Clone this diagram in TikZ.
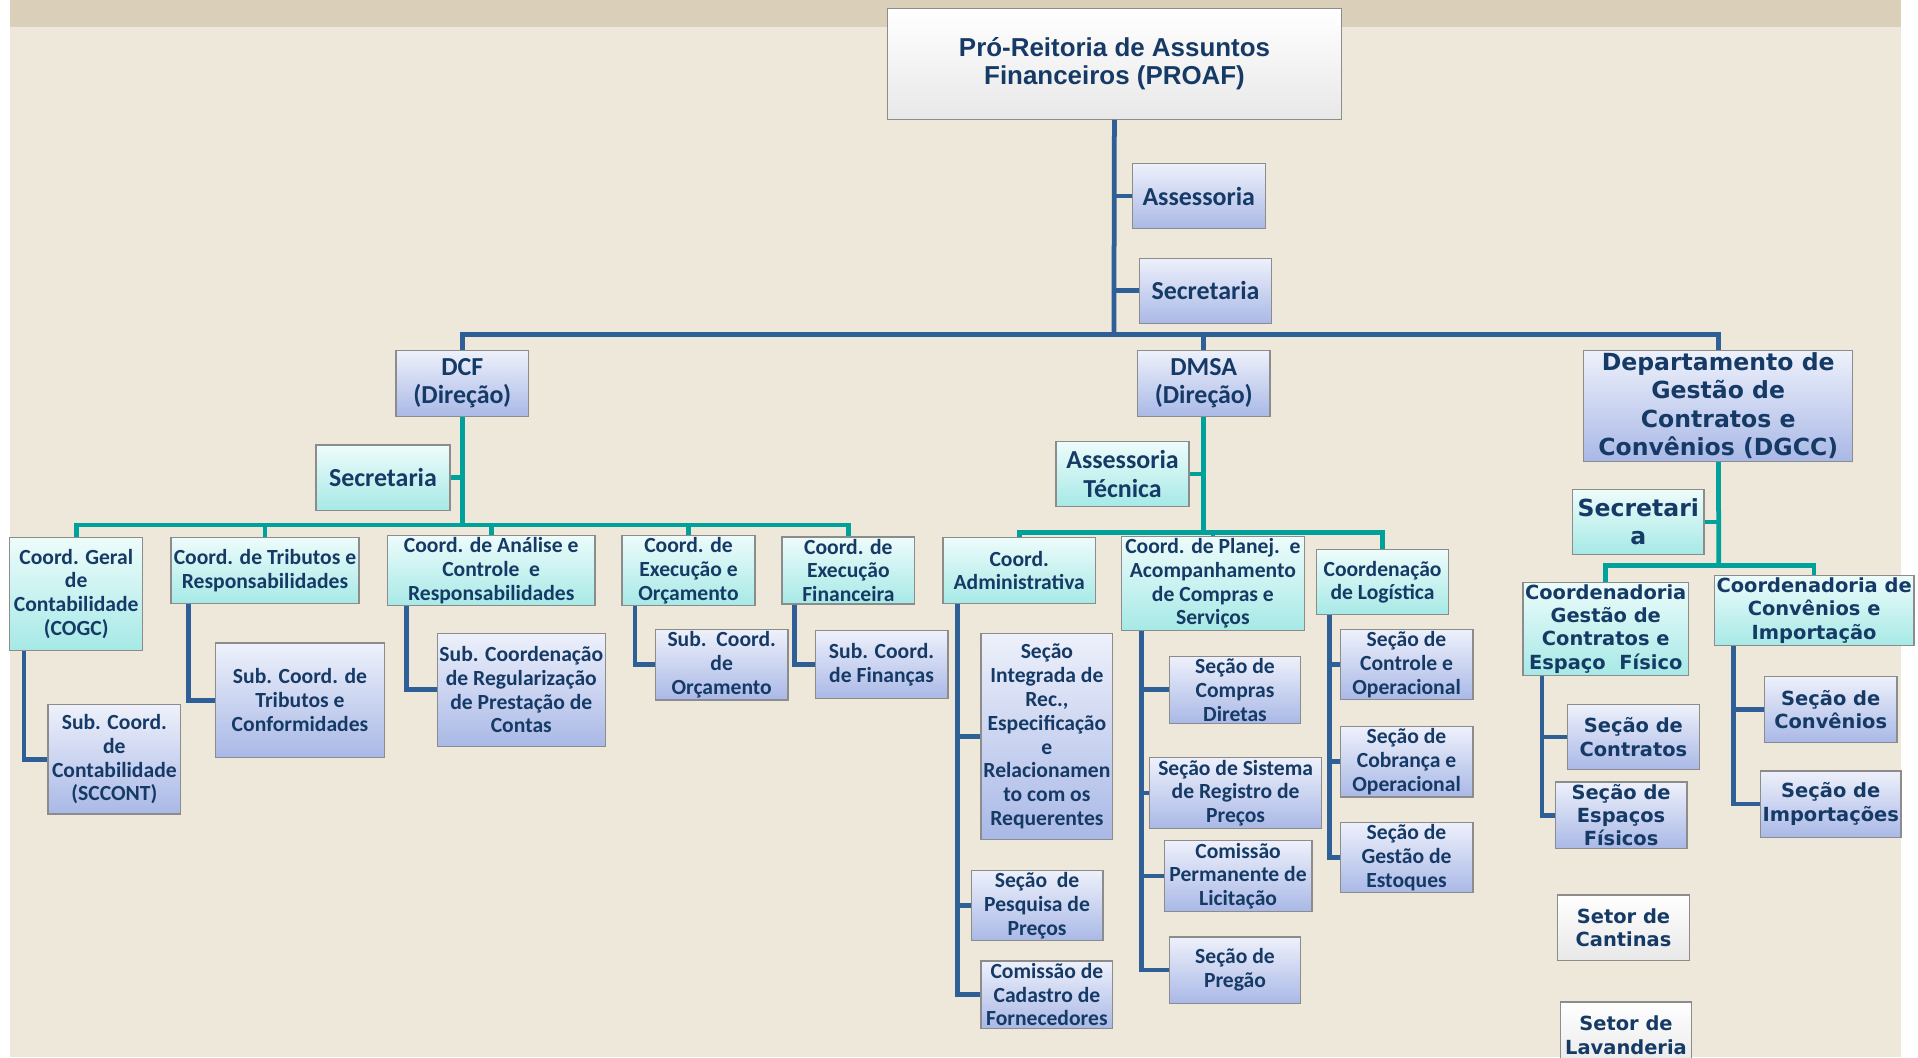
\documentclass[tikz,border=0pt]{standalone}
\usepackage{fontspec}
\setmainfont{Carlito}
\newfontfamily\verd{DejaVu Sans}
\newfontfamily\arialf{Liberation Sans}
\usetikzlibrary{calc}
\definecolor{navy}{HTML}{163A66}
\definecolor{boxgray}{HTML}{8C8C8C}
\definecolor{bluetop}{HTML}{EEF1FB}
\definecolor{bluebot}{HTML}{A9B8E6}
\definecolor{cyantop}{HTML}{EDFCFB}
\definecolor{cyanbot}{HTML}{A6E9E6}
\definecolor{linblue}{HTML}{2F5F97}
\definecolor{linteal}{HTML}{00A19B}
\definecolor{paper}{HTML}{EEE8DB}
\definecolor{band}{HTML}{DACFB8}
\newcommand{\fbig}{\fontsize{12}{13}\selectfont}
\newcommand{\fsml}{\fontsize{10}{11}\selectfont}
\newcommand{\vsml}{\verd\fontsize{9}{10.8}\selectfont}
\newcommand{\vbig}{\verd\fontsize{10.9}{13.2}\selectfont}
\tikzset{
  box/.style={draw=boxgray, line width=0.6pt, align=center, text=navy,
    font=\bfseries\fsml, inner sep=1pt},
  bluebox/.style={box, top color=bluetop, bottom color=bluebot},
  cyanbox/.style={box, top color=cyantop, bottom color=cyanbot},
  whitebox/.style={box, top color=white, bottom color=black!9},
  wh/.style 2 args={minimum width=#1*0.02cm, minimum height=#2*0.02cm},
  bline/.style={draw=linblue, line width=2.2pt},
  tline/.style={draw=linteal, line width=2.2pt},
}
\begin{document}
\begin{tikzpicture}[x=0.02cm,y=-0.02cm]
  \useasboundingbox (0,0) rectangle (1560,860);
  % background
  \fill[white] (0,0) rectangle (1560,860);
  \fill[paper] (8,0) rectangle (1546,860);
  \fill[band] (8,0) rectangle (1546,22);

  % top level
  \node[whitebox,wh={369}{90},font=\arialf\bfseries\fbig] (proaf) at (906.5,52) {Pró-Reitoria de Assuntos\\Financeiros (PROAF)};
  \node[bluebox,wh={108}{53},font=\bfseries\fbig] (assess) at (975,159.5) {Assessoria};
  \node[bluebox,wh={107}{53},font=\bfseries\fbig] (secr) at (980.5,236.5) {Secretaria};
  \node[bluebox,wh={108}{54},font=\bfseries\fbig] (dcf) at (376,312) {DCF\\(Direção)};
  \node[bluebox,wh={108}{54},font=\bfseries\fbig] (dmsa) at (979,312) {DMSA\\(Direção)};
  \node[bluebox,wh={219}{90},font=\bfseries\vbig] (dgcc) at (1397.5,330) {Departamento de\\Gestão de\\Contratos e\\Convênios (DGCC)};

  \coordinate (mainbus) at (906,272);
  \draw[bline] (proaf) -- (mainbus);
  \draw[bline] (assess) -- (assess -| mainbus);
  \draw[bline] (secr) -- (secr -| mainbus);
  \foreach \n in {dcf,dmsa,dgcc}
    \draw[bline] (mainbus) -| (\n);

  % DCF
  \node[cyanbox,wh={109}{53},font=\bfseries\fbig] (dcfsec) at (311.5,388.5) {Secretaria};
  \node[cyanbox,wh={108}{92}] (cogc) at (62,483) {Coord. Geral\\de\\Contabilidade\\(COGC)};
  \node[cyanbox,wh={153}{54}] (trib) at (215.5,464) {Coord. de Tributos e\\Responsabilidades};
  \node[cyanbox,wh={169}{54}] (anal) at (399.5,464) {Coord. de Análise e\\Controle\ \ e\\Responsabilidades};
  \node[cyanbox,wh={108}{54}] (exorc) at (560,464) {Coord. de\\Execução e\\Orçamento};
  \node[cyanbox,wh={108}{54}] (exfin) at (690,464) {Coord. de\\Execução\\Financeira};
  \node[bluebox,wh={108}{89}] (sccont) at (93,617.5) {Sub. Coord.\\de\\Contabilidade\\(SCCONT)};
  \node[bluebox,wh={138}{93}] (subtrib) at (244,569.5) {Sub. Coord. de\\Tributos e\\Conformidades};
  \node[bluebox,wh={136}{92}] (subreg) at (424,561) {Sub. Coordenação\\de Regularização\\de Prestação de\\Contas};
  \node[bluebox,wh={108}{55}] (suborc) at (587,540.5) {Sub.\ \ Coord.\\de\\Orçamento};
  \node[bluebox,wh={108}{55}] (subfin) at (717,540.5) {Sub. Coord.\\de Finanças};

  \coordinate (dcfbus) at (376,427);
  \draw[tline] (dcf) -- (dcfbus);
  \draw[tline] (dcfsec) -- (dcfsec -| dcfbus);
  \foreach \n in {cogc,trib,anal,exorc,exfin}
    \draw[tline] (dcfbus) -| (\n);
  \foreach \p/\o/\c in {cogc/12/sccont,trib/15/subtrib,anal/16/subreg,exorc/11/suborc,exfin/11/subfin}
    \draw[bline] ($(\p.south west)+(\o,0)$) |- (\c);

  % DMSA
  \node[cyanbox,wh={108}{53},font=\bfseries\fbig] (asstec) at (913,385.5) {Assessoria\\Técnica};
  \node[cyanbox,wh={124}{54}] (adm) at (829,464) {Coord.\\Administrativa};
  \node[cyanbox,wh={149}{75}] (planej) at (986.5,474.5) {Coord. de Planej.\ \ e\\Acompanhamento\\de Compras e\\Serviços};
  \node[cyanbox,wh={107}{53}] (logist) at (1124.5,473.5) {Coordenação\\de Logística};
  \node[bluebox,wh={107}{168}] (secint) at (851.5,599) {Seção\\Integrada de\\Rec.,\\Especificação\\e\\Relacionamen\\to com os\\Requerentes};
  \node[bluebox,wh={107}{55}] (secpesq) at (843.5,736.5) {Seção\ \ de\\Pesquisa de\\Preços};
  \node[bluebox,wh={107}{54}] (comcad) at (851.5,809) {Comissão de\\Cadastro de\\Fornecedores};
  \node[bluebox,wh={107}{54}] (seccomp) at (1004.5,561) {Seção de\\Compras\\Diretas};
  \node[bluebox,wh={140}{54}] (secsrp) at (1005,645) {Seção de Sistema\\de Registro de\\Preços};
  \node[bluebox,wh={120}{55}] (comperm) at (1007,712.5) {Comissão\\Permanente de\\Licitação};
  \node[bluebox,wh={107}{54}] (secpreg) at (1004.5,789) {Seção de\\Pregão};
  \node[bluebox,wh={108}{53}] (secctrl) at (1144,540.5) {Seção de\\Controle e\\Operacional};
  \node[bluebox,wh={108}{55}] (seccobr) at (1144,619.5) {Seção de\\Cobrança e\\Operacional};
  \node[bluebox,wh={108}{55}] (secestq) at (1144,697.5) {Seção de\\Gestão de\\Estoques};

  \coordinate (dmsabus) at (979,433);
  \draw[tline] (dmsa) -- (dmsabus);
  \draw[tline] (asstec) -- (asstec -| dmsabus);
  \foreach \n in {adm,planej,logist}
    \draw[tline] (dmsabus) -| (\n);
  \foreach \p/\o/\c in {adm/12/secint,adm/12/secpesq,adm/12/comcad,
      planej/17/seccomp,planej/17/secsrp,planej/17/comperm,planej/17/secpreg,
      logist/11/secctrl,logist/11/seccobr,logist/11/secestq}
    \draw[bline] ($(\p.south west)+(\o,0)$) |- (\c);

  % DGCC
  \node[cyanbox,wh={107}{53},font=\bfseries\vbig] (dgccsec) at (1332.5,424.5) {Secretari\\a};
  \node[cyanbox,wh={132}{75},font=\bfseries\vsml] (cgest) at (1306,511.5) {Coordenadoria\\Gestão de\\Contratos e\\Espaço\ \ Físico};
  \node[cyanbox,wh={159}{57},font=\bfseries\vsml] (cconv) at (1475.5,496.5) {Coordenadoria de\\Convênios e\\Importação};
  \node[bluebox,wh={107}{53},font=\bfseries\vsml] (seccontr) at (1328.5,599.5) {Seção de\\Contratos};
  \node[bluebox,wh={107}{54},font=\bfseries\vsml] (secesp) at (1318.5,663) {Seção de\\Espaços\\Físicos};
  \node[bluebox,wh={108}{54},font=\bfseries\vsml] (secconv) at (1489,577) {Seção de\\Convênios};
  \node[bluebox,wh={108}{54},font=\bfseries\vsml] (secimp) at (1489,654) {Seção de\\Importações};
  \node[whitebox,wh={107}{53},font=\bfseries\vsml] (cant) at (1320.5,754.5) {Setor de\\Cantinas};
  \node[whitebox,wh={107}{54},font=\bfseries\vsml] (lav) at (1322.5,842) {Setor de\\Lavanderia};

  \coordinate (dgccbus) at (1398,460);
  \draw[tline] (dgcc) -- (dgccbus);
  \draw[tline] (dgccsec) -- (dgccsec -| dgccbus);
  \foreach \n in {cgest,cconv}
    \draw[tline] (dgccbus) -| (\n);
  \foreach \p/\o/\c in {cgest/16/seccontr,cgest/16/secesp,cconv/16/secconv,cconv/16/secimp}
    \draw[bline] ($(\p.south west)+(\o,0)$) |- (\c);
\end{tikzpicture}
\end{document}
